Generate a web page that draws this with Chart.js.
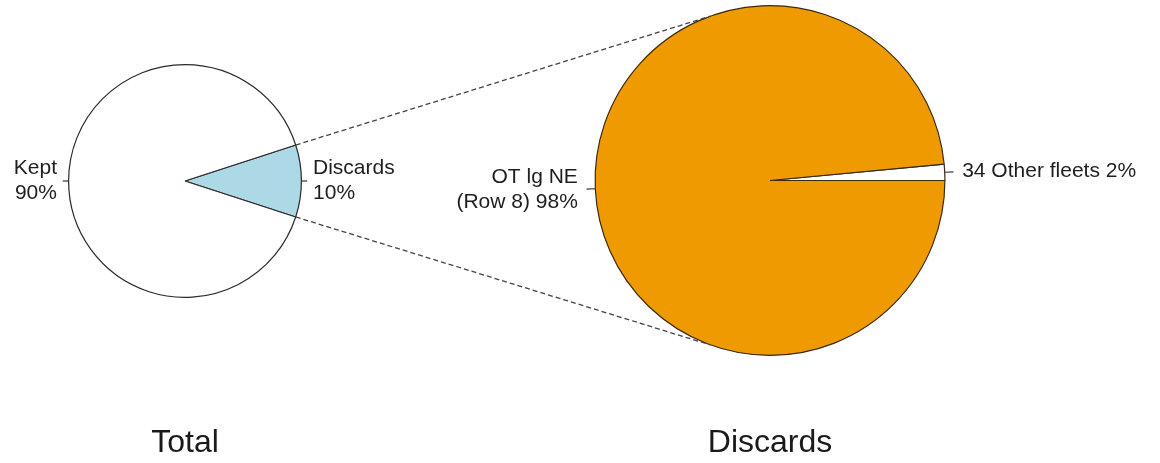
<!DOCTYPE html>
<html>
<head>
<meta charset="utf-8">
<script src="https://cdn.jsdelivr.net/npm/chart.js@4/dist/chart.umd.min.js"></script>
<style>
html, body { margin: 0; padding: 0; background: #fff; }
#wrap { position: relative; width: 1160px; height: 463px; }
canvas { position: absolute; left: 0; top: 0; }
</style>
</head>
<body>
<div id="wrap">
  <canvas id="total" width="1160" height="463"></canvas>
  <canvas id="discards" width="1160" height="463"></canvas>
</div>
<script>
// left pie
const totalLabels = ["Discards", "Kept"];
const totalValues = [10, 90];
const totalText = [["Discards", "10%"], ["Kept", "90%"]];

// right pie
const discardLabels = ["34 Other fleets", "OT lg NE (Row 8)"];
const discardValues = [1.5, 98.5];
const discardText = [["34 Other fleets 2%"], ["OT lg NE", "(Row 8) 98%"]];

const FONT = '"Liberation Sans", Arial, sans-serif';

// R style labels: small tick at the rim, text just outside
const sliceLabels = {
    id: 'sliceLabels',
    afterDraw(chart, args, opts) {
        const ctx = chart.ctx;
        const arcs = chart.getDatasetMeta(0).data;
        ctx.save();
        ctx.font = '21px ' + FONT;
        ctx.fillStyle = '#1e1e1e';
        ctx.strokeStyle = '#333';
        ctx.lineWidth = 1.2;
        ctx.textBaseline = 'middle';
        arcs.forEach((arc, i) => {
            const p = arc.getProps(['x', 'y', 'startAngle', 'endAngle', 'outerRadius'], true);
            const mid = (p.startAngle + p.endAngle) / 2;
            const c = Math.cos(mid), s = Math.sin(mid);
            const r = p.outerRadius;
            ctx.beginPath();
            ctx.moveTo(p.x + c * r, p.y + s * r);
            ctx.lineTo(p.x + c * r * 1.05, p.y + s * r * 1.05);
            ctx.stroke();
            const lines = opts.text[i];
            const tx = p.x + c * r * 1.1;
            const ty = p.y + s * r * 1.1;
            ctx.textAlign = c < 0 ? 'right' : 'left';
            const lh = 25;
            const y0 = ty - (lines.length - 1) * lh / 2;
            lines.forEach((t, k) => ctx.fillText(t, tx, y0 + k * lh));
        });
        // title under the pie
        const a = arcs[0];
        ctx.font = '32px ' + FONT;
        ctx.textAlign = 'center';
        ctx.fillStyle = '#1a1a1a';
        ctx.fillText(opts.title, a.x, 443);
        ctx.restore();
    }
};

// dashed lines from the discards slice to the big pie
const connectors = {
    id: 'connectors',
    afterDraw(chart) {
        const small = totalChart.getDatasetMeta(0).data[0].getProps(['x', 'y', 'startAngle', 'endAngle', 'outerRadius'], true);
        const big = chart.getDatasetMeta(0).data[0].getProps(['x', 'y', 'outerRadius'], true);
        const ctx = chart.ctx;
        const ang = 110 * Math.PI / 180;
        ctx.save();
        ctx.setLineDash([5, 3]);
        ctx.strokeStyle = '#444';
        ctx.lineWidth = 1.3;
        [[small.startAngle, -ang], [small.endAngle, ang]].forEach(([a1, a2]) => {
            ctx.beginPath();
            ctx.moveTo(small.x + Math.cos(a1) * small.outerRadius, small.y + Math.sin(a1) * small.outerRadius);
            ctx.lineTo(big.x + Math.cos(a2) * big.outerRadius, big.y + Math.sin(a2) * big.outerRadius);
            ctx.stroke();
        });
        ctx.restore();
    }
};

const baseOptions = {
    responsive: false,
    animation: false,
    events: [],
    plugins: { legend: { display: false }, tooltip: { enabled: false } }
};

const totalChart = new Chart(document.getElementById('total'), {
    type: 'pie',
    data: {
        labels: totalLabels,
        datasets: [{
            data: totalValues,
            backgroundColor: ['#ADD8E6', '#FFFFFF'],
            borderColor: '#2a2a2a',
            borderWidth: 1.2
        }]
    },
    options: Object.assign({}, baseOptions, {
        rotation: 90 - totalValues[0] * 1.8,
        layout: { padding: { left: 68, top: 64, right: 858, bottom: 165 } },
        plugins: Object.assign({}, baseOptions.plugins, {
            sliceLabels: { text: totalText, title: 'Total' }
        })
    }),
    plugins: [sliceLabels]
});

const discardChart = new Chart(document.getElementById('discards'), {
    type: 'pie',
    data: {
        labels: discardLabels,
        datasets: [{
            data: discardValues,
            backgroundColor: ['#FFFFFF', '#EE9A00'],
            borderColor: '#3a2a10',
            borderWidth: 1.2
        }]
    },
    options: Object.assign({}, baseOptions, {
        rotation: 90 - discardValues[0] * 3.6,
        layout: { padding: { left: 594.5, top: 5, right: 214.5, bottom: 107 } },
        plugins: Object.assign({}, baseOptions.plugins, {
            sliceLabels: { text: discardText, title: 'Discards' }
        })
    }),
    plugins: [connectors, sliceLabels]
});
</script>
</body>
</html>
